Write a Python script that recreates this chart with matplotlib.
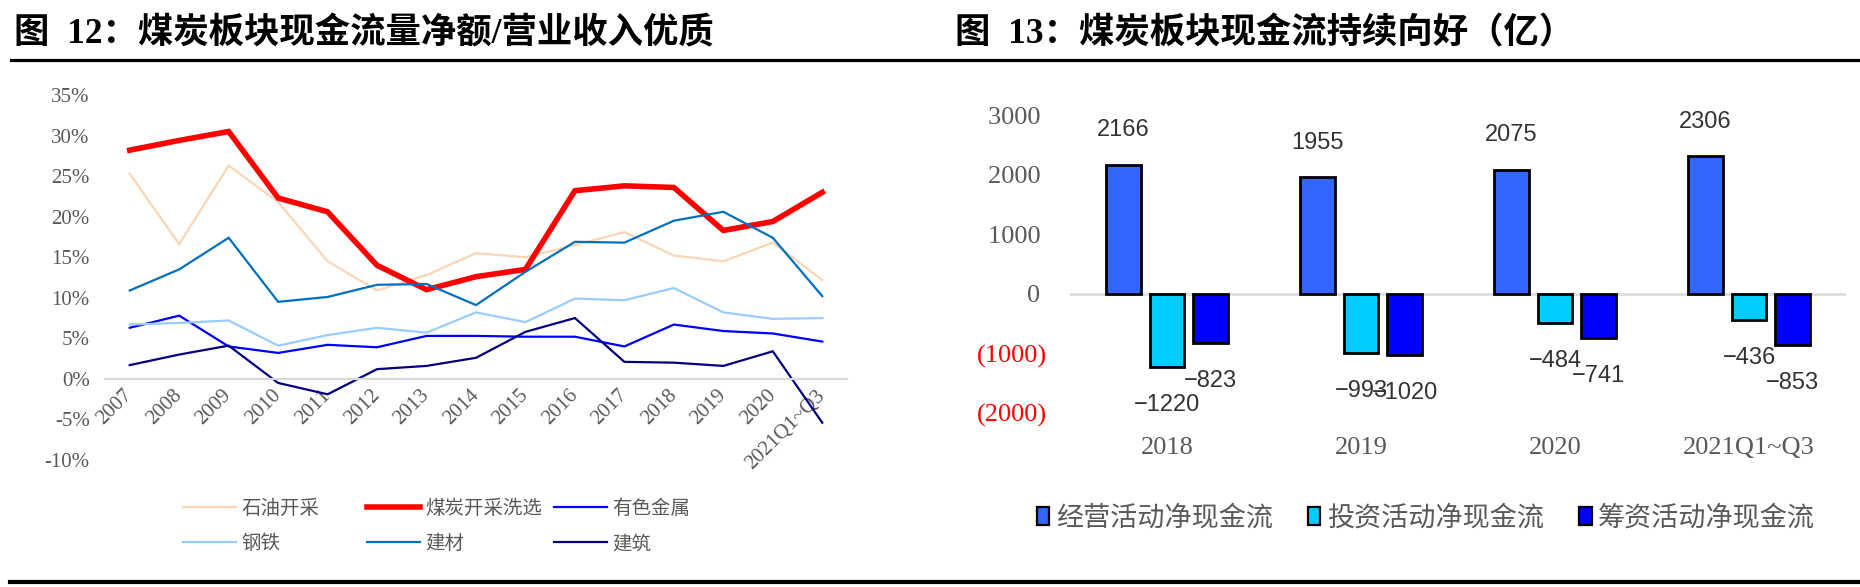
import matplotlib
matplotlib.use('Agg')
import matplotlib.pyplot as plt
import numpy as np
from matplotlib.lines import Line2D
from matplotlib.patches import Patch
from matplotlib import font_manager as fm

# ---------------- data: left chart (现金流量净额/营业收入, %) ----------------
years = ['2007', '2008', '2009', '2010', '2011', '2012', '2013', '2014', '2015',
         '2016', '2017', '2018', '2019', '2020', '2021Q1~Q3']
petroleum = [25.3, 16.6, 26.3, 21.8, 14.5, 10.9, 12.8, 15.5, 15.0, 16.5, 18.1, 15.2, 14.5, 16.8, 12.2]
coal = [28.2, 29.4, 30.5, 22.3, 20.6, 14.0, 11.0, 12.6, 13.5, 23.2, 23.8, 23.6, 18.3, 19.4, 23.0]
nonferrous = [6.3, 7.8, 4.0, 3.2, 4.2, 3.9, 5.3, 5.3, 5.2, 5.2, 4.0, 6.7, 5.9, 5.6, 4.6]
steel = [6.7, 6.9, 7.2, 4.1, 5.4, 6.3, 5.7, 8.2, 7.0, 9.9, 9.7, 11.2, 8.2, 7.4, 7.5]
building_mat = [10.9, 13.5, 17.4, 9.5, 10.1, 11.6, 11.7, 9.1, 13.2, 16.9, 16.8, 19.5, 20.6, 17.4, 10.2]
construction = [1.7, 3.0, 4.1, -0.5, -1.9, 1.2, 1.6, 2.6, 5.8, 7.5, 2.1, 2.0, 1.6, 3.4, -5.4]
left_ticks = [-10, -5, 0, 5, 10, 15, 20, 25, 30, 35]

# ---------------- data: right chart (亿) ----------------
periods = ['2018', '2019', '2020', '2021Q1~Q3']
operating = [2166, 1955, 2075, 2306]
investing = [-1220, -993, -484, -436]
financing = [-823, -1020, -741, -853]
right_ticks = [-2000, -1000, 0, 1000, 2000, 3000]

# ---------------- fonts ----------------
CJK = 'Noto Sans CJK SC'
names = {f.name for f in fm.fontManager.ttflist}
narrow = 'Liberation Sans Narrow' if 'Liberation Sans Narrow' in names else 'Liberation Sans'
narrow_size = 21 if narrow == 'Liberation Sans Narrow' else 17
SERIF = ['Liberation Serif', CJK]
GREY = '#595959'

plt.rcParams['font.family'] = ['Liberation Serif', CJK, 'DejaVu Sans']
plt.rcParams['axes.unicode_minus'] = False

W, H = 1860, 587
fig = plt.figure(figsize=(W / 100, H / 100), dpi=100)


def fx(px):
    return px / W


def fy(py):
    return 1 - py / H


# ---------------- titles and rules ----------------
fig.text(fx(14), fy(34), '图  12：煤炭板块现金流量净额/营业收入优质', fontsize=25.5,
         fontweight='bold', family=SERIF, ha='left', va='center', color='black')
fig.text(fx(955), fy(34), '图  13：煤炭板块现金流持续向好（亿）', fontsize=25.5,
         fontweight='bold', family=SERIF, ha='left', va='center', color='black')
fig.add_artist(Line2D([fx(11), 1.0], [fy(60), fy(60)], color='black', lw=2.3))
fig.add_artist(Line2D([fx(10), 1.0], [fy(582), fy(582)], color='black', lw=3.0))

# ---------------- left chart ----------------
ax1 = fig.add_axes([fx(105), fy(460), fx(847 - 105), (460 - 95) / H])
x = np.arange(len(years))
series = [
    ('石油开采', petroleum, '#fcd5b4', 1.6),
    ('煤炭开采洗选', coal, '#ff0000', 4.0),
    ('有色金属', nonferrous, '#0000ff', 1.6),
    ('钢铁', steel, '#99ccff', 1.6),
    ('建材', building_mat, '#0070c0', 1.6),
    ('建筑', construction, '#000080', 1.6),
]
handles = {}
for name, vals, col, lw in series:
    ln, = ax1.plot(x, vals, color=col, lw=lw, solid_joinstyle='miter', label=name)
    handles[name] = ln

for s in ['top', 'right', 'left']:
    ax1.spines[s].set_visible(False)
ax1.spines['bottom'].set_position(('data', 0))
ax1.spines['bottom'].set_color('#d9d9d9')
ax1.spines['bottom'].set_linewidth(1.6)

ax1.set_xlim(-0.5, len(years) - 0.5)
ax1.set_ylim(-10, 35)
ax1.set_yticks(left_ticks)
ax1.set_yticklabels([f'{v}%' for v in left_ticks])
ax1.set_xticks(x)
ax1.set_xticklabels(years)
ax1.tick_params(axis='both', length=0, labelsize=15, labelcolor=GREY)
ax1.tick_params(axis='y', pad=11)
ax1.tick_params(axis='x', pad=10)
plt.setp(ax1.get_xticklabels(), rotation=45, ha='right', va='center', rotation_mode='anchor')
ax1.patch.set_alpha(0)

# legend: three columns of two rows
cols = [(183, ['石油开采', '钢铁']), (367, ['煤炭开采洗选', '建材']), (554, ['有色金属', '建筑'])]
for xpx, keys in cols:
    leg = fig.legend([handles[k] for k in keys], keys, loc='center left',
                     bbox_to_anchor=(fx(xpx), fy(526)), frameon=False, borderpad=0,
                     borderaxespad=0, handlelength=2.75, handletextpad=0.25,
                     labelspacing=0.75, prop={'family': CJK, 'size': 14})
    for t in leg.get_texts():
        t.set_color(GREY)

# ---------------- right chart ----------------
ax2 = fig.add_axes([fx(1070), fy(413), fx(1846 - 1070), (413 - 115) / H])
xr = np.arange(len(periods))
bw = 0.18
off = 0.225
bar_specs = [
    ('经营活动净现金流', operating, '#3366ff', -off),
    ('投资活动净现金流', investing, '#00ccff', 0.0),
    ('筹资活动净现金流', financing, '#0000ff', off),
]
bar_handles = []
for name, vals, col, o in bar_specs:
    bars = ax2.bar(xr + o, vals, width=bw, color=col, edgecolor='black', linewidth=2.0,
                   zorder=3, label=name)
    bar_handles.append(Patch(facecolor=col, edgecolor='black', linewidth=1.6, label=name))
    for b, v in zip(bars, vals):
        txt = str(v) if v >= 0 else '\u2212' + str(-v)
        dy = 25 if v >= 0 else -27.5
        ax2.annotate(txt, (b.get_x() + b.get_width() / 2, v), xytext=(0, dy),
                     textcoords='offset points', ha='center', va='center',
                     fontsize=narrow_size, family=[narrow, 'DejaVu Sans'], color='#333333',
                     zorder=4)

ax2.axhline(0, color='#d9d9d9', lw=1.8, zorder=1)
ax2.set_xlim(-0.5, len(periods) - 0.5)
ax2.set_ylim(-2000, 3000)
ax2.set_yticks(right_ticks)
ax2.set_yticklabels([(str(v) + ' ') if v >= 0 else f'({-v})' for v in right_ticks])
for lab, v in zip(ax2.get_yticklabels(), right_ticks):
    lab.set_color('#ff0000' if v < 0 else GREY)
ax2.set_xticks(xr)
ax2.set_xticklabels(periods)
for s in ax2.spines.values():
    s.set_visible(False)
ax2.tick_params(axis='both', length=0, labelsize=19)
ax2.tick_params(axis='x', labelcolor=GREY, pad=17)
ax2.tick_params(axis='y', pad=16.5)
ax2.patch.set_alpha(0)

leg2 = fig.legend(handles=bar_handles, loc='center left', bbox_to_anchor=(fx(1037), fy(518)),
                  ncol=3, frameon=False, borderpad=0, borderaxespad=0, handlelength=0.45,
                  handleheight=0.6, handletextpad=0.25, columnspacing=1.3,
                  prop={'family': CJK, 'size': 19.5})
for t in leg2.get_texts():
    t.set_color(GREY)

fig.savefig('out.png', dpi=100)
